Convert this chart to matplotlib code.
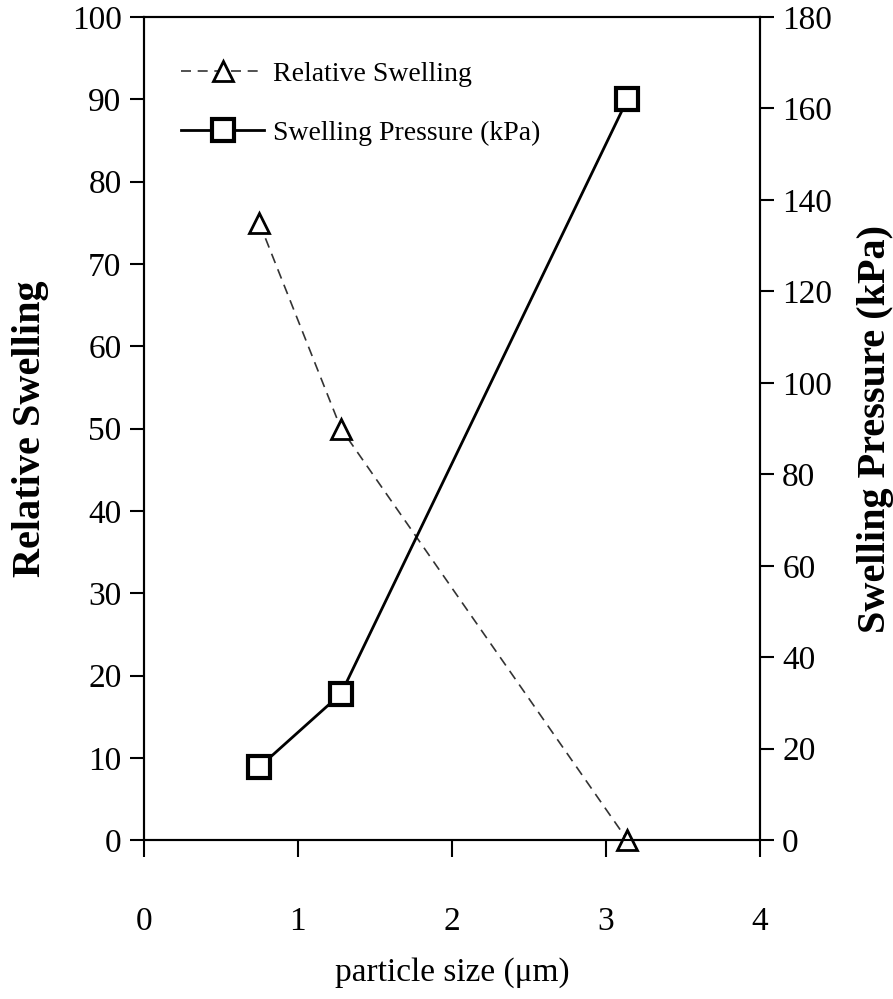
import numpy as np
import matplotlib.pyplot as plt

plt.rcParams['font.family'] = ['Liberation Serif', 'DejaVu Serif']

size = [0.75, 1.28, 3.14]
rel_swelling = [75, 50, 0]
sw_pressure = [16, 32, 162]

fig = plt.figure(figsize=(8.93, 9.99), dpi=100)
ax = fig.add_axes([0.161, 0.159, 0.690, 0.824])
ax2 = ax.twinx()

l1, = ax.plot(size, rel_swelling, '--', color='#333333', lw=1.2, marker='^',
              markersize=15, markerfacecolor='white', markeredgecolor='black',
              markeredgewidth=2, dashes=(6, 4), label='Relative Swelling',
              clip_on=False, zorder=3)
l2, = ax2.plot(size, sw_pressure, '-', color='black', lw=2, marker='s',
               markersize=16, markerfacecolor='white', markeredgecolor='black',
               markeredgewidth=3, label='Swelling Pressure (kPa)', clip_on=False)

ax.set_xlim(0, 4)
ax.set_ylim(0, 100)
ax2.set_ylim(0, 180)
ax.set_xticks(range(0, 5))
ax.set_yticks(range(0, 101, 10))
ax2.set_yticks(range(0, 181, 20))

ax.tick_params(axis='x', direction='out', length=12, width=1.5, pad=36, labelsize=24)
ax.tick_params(axis='y', direction='out', length=10, width=1.5, pad=6, labelsize=24)
ax2.tick_params(axis='y', direction='out', length=10, width=1.5, pad=6, labelsize=24)
for a in (ax, ax2):
    for s in a.spines.values():
        s.set_linewidth(1.5)

ax.set_xlabel('particle size (\u03bcm)', fontsize=24, labelpad=14)
ax.set_ylabel('Relative Swelling', fontsize=29, fontweight='bold', labelpad=16)
ax2.set_ylabel('Swelling Pressure (kPa)', fontsize=29, fontweight='bold', labelpad=18)

ax.legend(handles=[l1, l2], loc='upper left', bbox_to_anchor=(0.02, 0.976),
          frameon=False, fontsize=20, handlelength=3.0, handletextpad=0.3,
          labelspacing=1.2)

plt.savefig('out.png', dpi=100)
